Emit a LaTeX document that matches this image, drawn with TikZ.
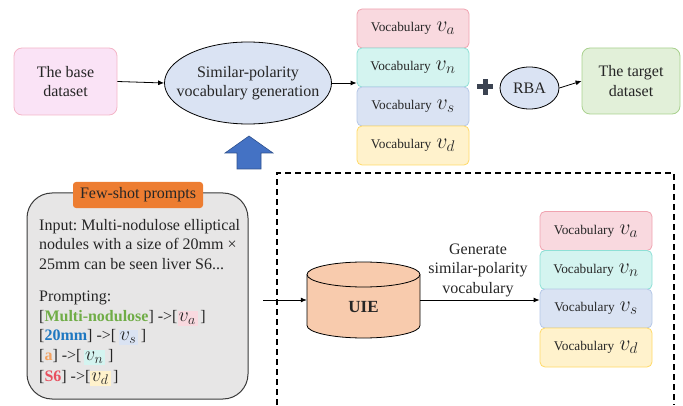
\documentclass[tikz,border=0pt]{standalone}
\usepackage{fix-cm}
\usepackage{fontspec}
\setmainfont{Liberation Serif}
\frenchspacing
\usetikzlibrary{shapes.geometric,arrows.meta}
\definecolor{textc}{HTML}{262626}
\definecolor{basefill}{HTML}{FAE3F6}
\definecolor{baseborder}{HTML}{F4B6C8}
\definecolor{ellfill}{HTML}{DAE3F3}
\definecolor{tgtfill}{HTML}{E2F0D9}
\definecolor{tgtborder}{HTML}{A9D18E}
\definecolor{vafill}{HTML}{F9D9DF}
\definecolor{vaborder}{HTML}{F0A3B0}
\definecolor{vnfill}{HTML}{D4F4F0}
\definecolor{vnborder}{HTML}{8DE0D6}
\definecolor{vsfill}{HTML}{DAE3F3}
\definecolor{vsborder}{HTML}{B4C7E7}
\definecolor{vdfill}{HTML}{FFF2CC}
\definecolor{vdborder}{HTML}{FFD966}
\definecolor{fewfill}{HTML}{E7E6E6}
\definecolor{fewborder}{HTML}{3A3A3A}
\definecolor{orangec}{HTML}{ED7D31}
\definecolor{cylfill}{HTML}{F8CBAD}
\definecolor{bluearr}{HTML}{4472C4}
\definecolor{bluearrb}{HTML}{2F528F}
\definecolor{plusc}{HTML}{3B4351}
\definecolor{cgreen}{HTML}{70AD47}
\definecolor{cblue}{HTML}{1F78C1}
\definecolor{corange}{HTML}{F4A261}
\definecolor{cred}{HTML}{E8505F}
\newcommand\vocabtext[1]{{\fontsize{13.3}{16}\selectfont Vocabulary}\hspace{5pt}{\fontsize{22}{22}\selectfont$v_{#1}$}}
\newcommand\hlv[2]{{\setlength{\fboxsep}{1pt}\colorbox{#1}{\fontsize{20}{20}\selectfont\rule[-3.5pt]{0pt}{13pt}\smash{$v_{#2}$}\hspace{1pt}}}}
\tikzset{
  txt/.style={font=\fontsize{16}{19.5}\selectfont, text=textc, align=center},
  vocab/.style={draw=#1border, fill=#1fill, rounded corners=5pt, minimum width=112pt,
    minimum height=39pt, inner sep=0pt, line width=0.8pt, text=textc},
  arr/.style={-{Latex[length=6pt,width=5pt]}, line width=0.8pt, draw=black},
  pline/.style={anchor=base west, inner sep=0pt, font=\fontsize{16}{19.5}\selectfont, text=textc},
}
\begin{document}
\begin{tikzpicture}[x=1pt,y=1pt]
\useasboundingbox (0,0) rectangle (683,405);
% top row
\node[txt, draw=baseborder, fill=basefill, rounded corners=8pt, minimum width=103pt,
  minimum height=67pt, line width=0.8pt] (base) at (65.5,323.5) {The base\\dataset};
\node[ellipse, draw=black, fill=ellfill, minimum width=167pt, minimum height=82pt,
  inner sep=0pt, line width=0.8pt] (gen) at (248,322) {};
\node[txt] (gentxt) at (gen.center) {Similar-polarity\\vocabulary generation};
\node[vocab=va] (ta) at (413,376.5) {\vocabtext{a}};
\node[vocab=vn] (tn) at (413,337.5) {\vocabtext{n}};
\node[vocab=vs] (ts) at (413,298.5) {\vocabtext{s}};
\node[vocab=vd] (td) at (413,259.5) {\vocabtext{d}};
\draw[line width=5pt, plusc] (477,318) -- (493,318) (485,310) -- (485,326);
\node[txt, ellipse, draw=black, fill=ellfill, minimum width=59pt, minimum height=42pt,
  inner sep=0pt, line width=0.8pt] (rba) at (529.5,317) {RBA};
\node[txt, draw=tgtborder, fill=tgtfill, rounded corners=8pt, minimum width=98pt,
  minimum height=66pt, line width=0.8pt] (tgt) at (631,324) {The target\\dataset};
\draw[arr] (base.east) -- (gen.west);
\draw[arr] (gen.east) -- (gen.east -| tn.west);
\draw[arr] (rba.east) -- (tgt.west);
% blue up arrow
\draw[fill=bluearr, draw=bluearrb, line width=0.6pt]
  (249,269) -- (273,252) -- (261,252) -- (261,236) -- (237,236) -- (237,252) -- (225,252) -- cycle;
% dashed region
\draw[dash pattern=on 6pt off 4pt, line width=1.2pt] (277,0) -- (277,232) -- (674,232) -- (674,0);
% few-shot box
\draw[fill=fewfill, draw=fewborder, line width=1pt, rounded corners=25pt] (27,6) rectangle (248,212);
\node[txt, fill=orangec, rounded corners=3pt, minimum width=130pt, minimum height=26pt,
  inner sep=0pt] (fewlab) at (138,210) {Few-shot prompts};
\node[pline] (l1) at (39,175) {Input: Multi-nodulose elliptical};
\node[pline] (l2) at (39,155.5) {nodules with a size of 20mm ×};
\node[pline] (l3) at (39,136) {25mm can be seen liver S6...};
\node[pline] (l4) at (39,104) {Prompting:};
\node[pline] (l5) at (39,84) {[\textbf{\textcolor{cgreen}{Multi-nodulose}}] ->[\hlv{vafill}{a}\,]};
\node[pline] (l6) at (39,64.5) {[\textbf{\textcolor{cblue}{20mm}}] ->[\,\hlv{vsfill}{s}\,]};
\node[pline] (l7) at (39,44.5) {[\textbf{\textcolor{corange}{a}}] ->[\,\hlv{vnfill}{n}\,]};
\node[pline] (l8) at (39,24) {[\textbf{\textcolor{cred}{S6}}] ->[\hlv{vdfill}{d}\,]};
% UIE cylinder
\node[minimum width=113pt, minimum height=76pt, inner sep=0pt] (uie) at (363.5,105) {};
\fill[cylfill] (307,130.5) -- (307,79.5) arc (180:360:56.5pt and 12.5pt) -- (420,130.5) -- cycle;
\draw[line width=0.8pt] (307,130.5) -- (307,79.5) arc (180:360:56.5pt and 12.5pt) -- (420,130.5);
\draw[fill=cylfill, line width=0.8pt] (363.5,130.5) ellipse (56.5pt and 12.5pt);
\node[txt, font=\fontsize{17}{20}\selectfont\bfseries] (uietxt) at (363.5,98) {UIE};
\coordinate (fewout) at (263,105);
\draw[arr] (fewout) -- (uie.west);
% lower vocab
\node[vocab=va] (ba) at (596,174) {\vocabtext{a}};
\node[vocab=vn] (bn) at (596,135) {\vocabtext{n}};
\node[vocab=vs] (bs) at (596,96.5) {\vocabtext{s}};
\node[vocab=vd] (bd) at (596,57.5) {\vocabtext{d}};
\draw[arr] (uie.east) -- (uie.east -| bs.west);
\node[txt] (genlab) at (478,135) {Generate\\similar-polarity\\vocabulary};
\end{tikzpicture}
\end{document}
